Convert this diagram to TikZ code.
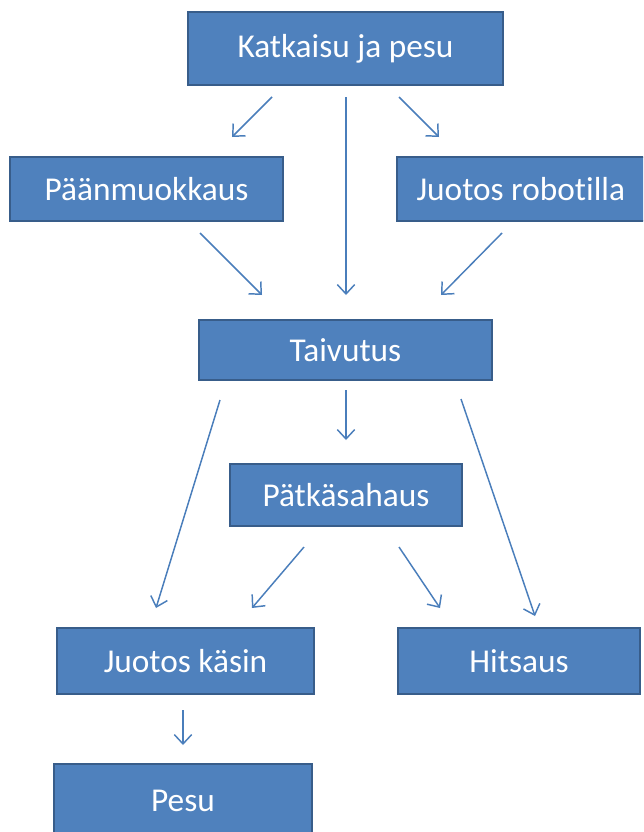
\documentclass[tikz,border=0pt]{standalone}
\usepackage{fontspec}
\setmainfont{Carlito}[Ligatures={NoCommon}]
\usetikzlibrary{arrows.meta}
\definecolor{boxfill}{HTML}{4F81BD}
\definecolor{boxline}{HTML}{385D8A}
\definecolor{arr}{HTML}{4A7EBB}
\tikzset{
  box/.style={draw=boxline, fill=boxfill, line width=2pt, text=white,
    font=\fontsize{25}{30}\selectfont, inner sep=0pt},
  flow/.style={draw=arr, line width=1.1pt, -{Straight Barb[length=7pt,width=13pt,line width=1.1pt]}}
}
\begin{document}
\begin{tikzpicture}[x=0.75pt,y=-0.75pt]
\useasboundingbox (0,0) rectangle (643,832);
\clip (0,0) rectangle (643,832);
\fill[white] (0,0) rectangle (643,832);
% boxes
\draw[box] (188,12) rectangle (503,85) node[midway] (kat) {Katkaisu ja pesu};
\draw[box] (10,157) rectangle (283,221) node[midway] (paa) {Päänmuokkaus};
\draw[box] (397,157) rectangle (650,221) node[midway,xshift=-2pt] (rob) {Juotos robotilla};
\draw[box] (199,320) rectangle (492,380) node[midway] (tai) {Taivutus};
\draw[box] (230,464) rectangle (462,526) node[midway] (pat) {Pätkäsahaus};
\draw[box] (57,628) rectangle (314,694) node[midway] (jk) {Juotos käsin};
\draw[box] (398,628) rectangle (640,694) node[midway] (hit) {Hitsaus};
\draw[box] (54,764) rectangle (312,850);
\node[box, draw=none, fill=none] (pesu) at (183,801) {Pesu};
% arrow end points
\coordinate (a1s) at (272,97);  \coordinate (a1e) at (232,137);
\coordinate (a2s) at (346,97);  \coordinate (a2e) at (346,295);
\coordinate (a3s) at (399,97);  \coordinate (a3e) at (439,137);
\coordinate (a4s) at (200,233); \coordinate (a4e) at (262,295);
\coordinate (a5s) at (502,233); \coordinate (a5e) at (441,295);
\coordinate (a6s) at (346,390); \coordinate (a6e) at (346,440);
\coordinate (a7s) at (220,400); \coordinate (a7e) at (156,608);
\coordinate (a8s) at (461,399); \coordinate (a8e) at (535,616);
\coordinate (a9s) at (304,547); \coordinate (a9e) at (252,608);
\coordinate (a10s) at (399,547); \coordinate (a10e) at (440,608);
\coordinate (a11s) at (183,710); \coordinate (a11e) at (183,745);
\foreach \i in {1,...,11} \draw[flow] (a\i s) -- (a\i e);
\end{tikzpicture}
\end{document}
